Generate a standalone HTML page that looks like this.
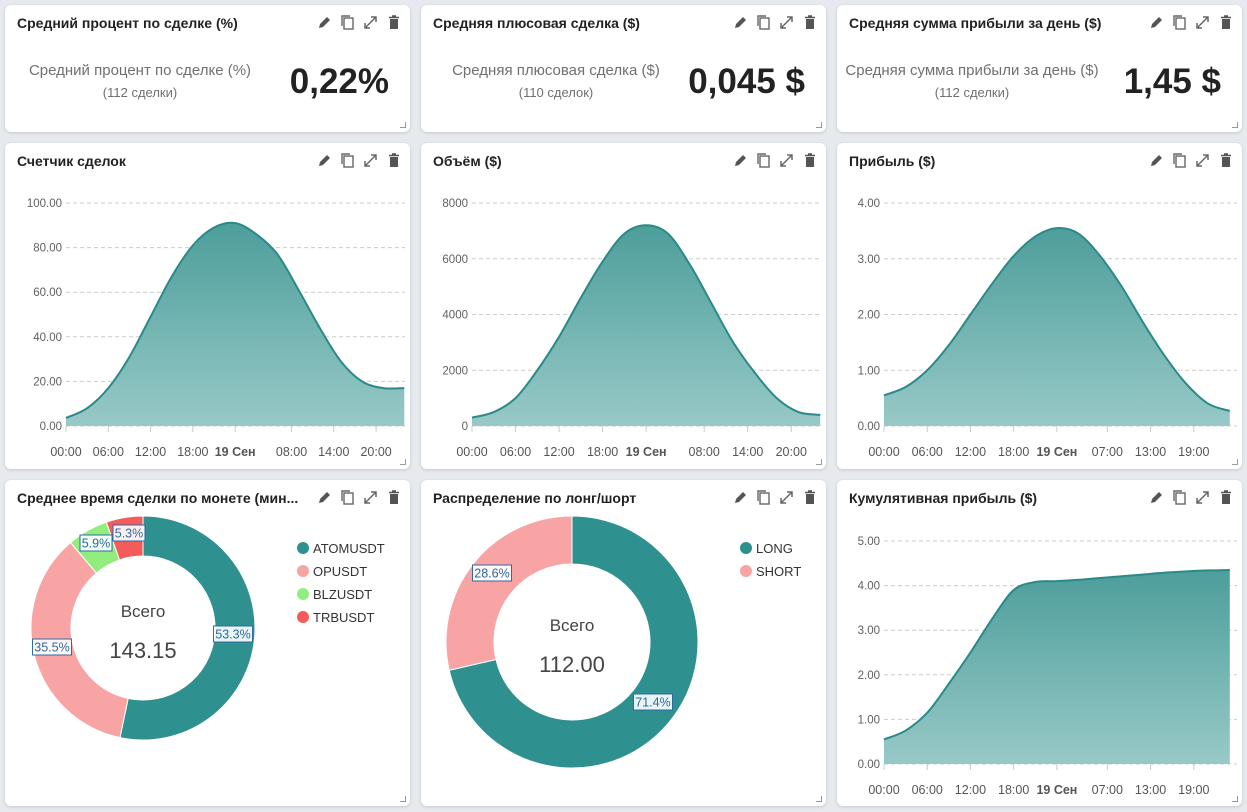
<!DOCTYPE html>
<html><head><meta charset="utf-8">
<style>
body{margin:0;width:1247px;height:812px;background:#e6eaee;font-family:"Liberation Sans",sans-serif;position:relative;overflow:hidden}
.card{position:absolute;background:#fff;border-radius:6px;box-shadow:0 1px 3px rgba(0,0,0,.15)}
.title{position:absolute;left:12px;top:10px;font-size:14px;font-weight:bold;color:#222;white-space:nowrap}
.icons{position:absolute;right:8px;top:9px;display:flex;gap:6px}
.icons span{width:17px;height:17px;display:block}
.rz{position:absolute;right:4px;bottom:4px;width:5px;height:5px;border-right:1px solid #999;border-bottom:1px solid #999}
.kl{position:absolute;left:0;width:270px;text-align:center;color:#707070}
.kv{position:absolute;right:21px;top:57px;font-size:35px;font-weight:bold;color:#222}
svg text{font-family:"Liberation Sans",sans-serif}
</style></head><body>
<div id="cards"></div>
<svg id="ov" width="1247" height="812" style="position:absolute;left:0;top:0;pointer-events:none">
<defs><linearGradient id="g" x1="0" y1="0" x2="0" y2="1"><stop offset="0" stop-color="#4d9e9b"/><stop offset="1" stop-color="#97c9c7"/></linearGradient></defs>
</svg>
<script>
// ---- data ----
const countHours=[0,3,6,9,12,15,18,21,24,27,30,33,36,39,42,45,48];
const countValues=[3.6,8,17,31,49,67,81,89,91,86,77,61,44,29,20,17,17];
const volumeValues=[300,500,1000,2000,3200,4600,5900,6900,7200,6900,5800,4400,3000,1900,1000,500,400];
const profitValues=[0.55,0.7,1.0,1.45,2.0,2.55,3.05,3.4,3.55,3.45,3.05,2.5,1.85,1.25,0.75,0.4,0.27];
const cumValues=[0.55,0.75,1.15,1.8,2.5,3.25,3.9,4.08,4.1,4.13,4.17,4.21,4.25,4.29,4.32,4.34,4.35];
const countTicks=["0.00","20.00","40.00","60.00","80.00","100.00"];
const volumeTicks=["0","2000","4000","6000","8000"];
const profitTicks=["0.00","1.00","2.00","3.00","4.00"];
const cumTicks=["0.00","1.00","2.00","3.00","4.00","5.00"];
const xLabelsA=["00:00","06:00","12:00","18:00","19 Сен","08:00","14:00","20:00"];
const xHoursA=[0,6,12,18,24,32,38,44];
const xLabelsB=["00:00","06:00","12:00","18:00","19 Сен","07:00","13:00","19:00"];
const xHoursB=[0,6,12,18,24,31,37,43];
const coins=["ATOMUSDT","OPUSDT","BLZUSDT","TRBUSDT"];
const coinShares=[53.3,35.5,5.9,5.3];
const sides=["LONG","SHORT"];
const sideShares=[71.4,28.6];

const NS="http://www.w3.org/2000/svg";
const ov=document.getElementById('ov');
function el(tag,attrs,parent){const e=document.createElementNS(NS,tag);for(const k in attrs)e.setAttribute(k,attrs[k]);(parent||ov).appendChild(e);return e;}

const cardDefs=[
[5,5,"Средний процент по сделке (%)","kpi-avg-percent"],[421,5,"Средняя плюсовая сделка ($)","kpi-avg-win"],[837,5,"Средняя сумма прибыли за день ($)","kpi-daily-profit"],
[5,143,"Счетчик сделок","trade-count-card"],[421,143,"Объём ($)","volume-card"],[837,143,"Прибыль ($)","profit-card"],
[5,480,"Среднее время сделки по монете (мин...","avg-time-card"],[421,480,"Распределение по лонг/шорт","long-short-card"],[837,480,"Кумулятивная прибыль ($)","cumulative-card"]];
const kpis=[["Средний процент по сделке (%)","(112 сделки)","0,22%"],["Средняя плюсовая сделка ($)","(110 сделок)","0,045 $"],["Средняя сумма прибыли за день ($)","(112 сделки)","1,45 $"]];
const iconSvg=[
'<svg viewBox="0 0 17 17"><path d="M3 14l1-4 7-7 3 3-7 7z" fill="#555"/></svg>',
'<svg viewBox="0 0 17 17"><rect x="5" y="4" width="9" height="11" fill="none" stroke="#666" stroke-width="1.4"/><path d="M3 12V2h8" fill="none" stroke="#666" stroke-width="1.4"/></svg>',
'<svg viewBox="0 0 17 17"><path d="M3 14L14 3M9 3h5v5M3 9v5h5" fill="none" stroke="#666" stroke-width="1.5"/></svg>',
'<svg viewBox="0 0 17 17"><path d="M5 5h8v10H5z" fill="#555"/><path d="M4 3.5h10M7 2h4" stroke="#555" stroke-width="1.5"/></svg>'];
const iconNames=["edit-button","copy-button","expand-button","delete-button"];
const cc=document.getElementById('cards');
cardDefs.forEach((c,i)=>{
  const d=document.createElement('div');d.className='card';
  
  
  d.style.left=c[0]+'px';d.style.top=c[1]+'px';d.style.width='405px';d.style.height=(i<3?127:326)+'px';
  let h='<div class="title">'+c[2]+'</div><div class="icons">';
  iconSvg.forEach((s,j)=>{h+='<span>'+s+'</span>';});
  h+='</div><div class="rz"></div>';
  if(i<3){const k=kpis[i];
    h+='<div class="kl" style="top:57px;font-size:15px">'+k[0]+'</div>'+
       '<div class="kl" style="top:80px;font-size:13px">'+k[1]+'</div>'+
       '<div class="kv">'+k[2]+'</div>';}
  d.innerHTML=h;cc.appendChild(d);
});

function smooth(p){let d='M'+p[0][0]+','+p[0][1];
  for(let i=0;i<p.length-1;i++){const p0=p[i-1]||p[i],p1=p[i],p2=p[i+1],p3=p[i+2]||p2;
    d+=' C'+(p1[0]+(p2[0]-p0[0])/6)+','+(p1[1]+(p2[1]-p0[1])/6)+' '+(p2[0]-(p3[0]-p1[0])/6)+','+(p2[1]-(p3[1]-p1[1])/6)+' '+p2[0]+','+p2[1];}
  return d;}

function area(o){
  const xs=h=>o.x0+(h/o.hmax)*(o.x1-o.x0);
  const ys=v=>o.y0-(v/o.vmax)*(o.y0-o.yTop);
  const g=el('g',{});
  
  
  o.ticks.forEach(t=>{const y=ys(parseFloat(t));
    el('line',{x1:o.x0,x2:o.x1,y1:y,y2:y,stroke:'#ccc','stroke-dasharray':'4,3'},g);
    const tx=el('text',{x:o.x0-4,y:y+4,'text-anchor':'end','font-size':11.5,fill:'#606060'},g);
    
    
    tx.textContent=t;});
  const pts=countHours.map((h,i)=>[xs(h),ys(o.vals[i])]);
  const d=smooth(pts);
  const a=el('path',{d:d+' L'+pts[pts.length-1][0]+','+o.y0+' L'+pts[0][0]+','+o.y0+'Z',fill:'url(#g)'},g);
  
  
  const l=el('path',{d:d,fill:'none',stroke:'#2a8a87','stroke-width':2},g);
  
  
  o.xh.forEach((h,i)=>{const x=xs(h);
    el('line',{x1:x,x2:x,y1:o.y0,y2:o.y0+6,stroke:'#ccc'},g);
    const tx=el('text',{x:x,y:o.y0+30,'text-anchor':'middle','font-size':12.5,fill:'#555','font-weight':o.xl[i].indexOf('Сен')>=0?'bold':'normal'},g);
    
    
    tx.textContent=o.xl[i];});
}
area({name:'trade-count-chart',x0:66,x1:405,y0:426,yTop:203,hmax:48.1,vmax:100,vals:countValues,ticks:countTicks,xh:xHoursA,xl:xLabelsA});
area({name:'volume-chart',x0:472,x1:821,y0:426,yTop:203,hmax:48.1,vmax:8000,vals:volumeValues,ticks:volumeTicks,xh:xHoursA,xl:xLabelsA});
area({name:'profit-chart',x0:884,x1:1237,y0:426,yTop:203,hmax:49,vmax:4,vals:profitValues,ticks:profitTicks,xh:xHoursB,xl:xLabelsB});
area({name:'cumulative-chart',x0:884,x1:1237,y0:764,yTop:541,hmax:49,vmax:5,vals:cumValues,ticks:cumTicks,xh:xHoursB,xl:xLabelsB});

function donut(o){
  const g=el('g',{});
  
  
  let a=0;const tot=o.vals.reduce((s,v)=>s+v,0);
  o.vals.forEach((v,i)=>{const a2=a+v/tot*Math.PI*2;
    const P=(r,t)=>[o.cx+r*Math.sin(t),o.cy-r*Math.cos(t)];const lg=(a2-a)>Math.PI?1:0;
    const p1=P(o.R,a),p2=P(o.R,a2),p3=P(o.r,a2),p4=P(o.r,a);
    const s=el('path',{d:`M${p1} A${o.R},${o.R} 0 ${lg} 1 ${p2} L${p3} A${o.r},${o.r} 0 ${lg} 0 ${p4}Z`,fill:o.colors[i],stroke:'#fff','stroke-width':1},g);
    
    
    a=a2;});
  o.vals.forEach((v,i)=>{
    const lp=o.lpos[i];
    const t=v.toFixed(1)+'%';const w=t.length*7+4;
    const bx=el('rect',{x:lp[0]-w/2,y:lp[1]-8,width:w,height:16,fill:'rgba(255,255,255,0.9)',stroke:'#2b6ca3','stroke-width':1},g);
    
    
    const tx=el('text',{x:lp[0],y:lp[1]+4.5,'text-anchor':'middle','font-size':12.5,fill:'#2b6ca3'},g);
    
    
    tx.textContent=t;});
  const t1=el('text',{x:o.cx,y:o.cy-11,'text-anchor':'middle','font-size':17,fill:'#444'},g);
  
  
  t1.textContent='Всего';
  const t2=el('text',{x:o.cx,y:o.cy+30,'text-anchor':'middle','font-size':22,fill:'#444'},g);
  
  
  t2.textContent=o.total;
  o.labels.forEach((n,i)=>{const y=o.ly+i*23;
    const c=el('circle',{cx:o.lx,cy:y,r:6,fill:o.colors[i]},g);
    
    
    const tx=el('text',{x:o.lx+10,y:y+5,'font-size':13,fill:'#333'},g);
    
    
    tx.textContent=n;});
}
donut({name:'avg-time-donut',cx:143,cy:628,R:112,r:72,vals:coinShares,labels:coins,colors:['#2e918f','#f8a4a5','#91ee7e','#f45b5b'],
  lpos:[[233,634],[52,647],[96,543],[129,533]],total:'143.15',lx:303,ly:548});
donut({name:'long-short-donut',cx:572,cy:642,R:126,r:78,vals:sideShares,labels:sides,colors:['#2e918f','#f8a4a5'],
  lpos:[[653,702],[492,573]],total:'112.00',lx:746,ly:548});
</script>
</body></html>
